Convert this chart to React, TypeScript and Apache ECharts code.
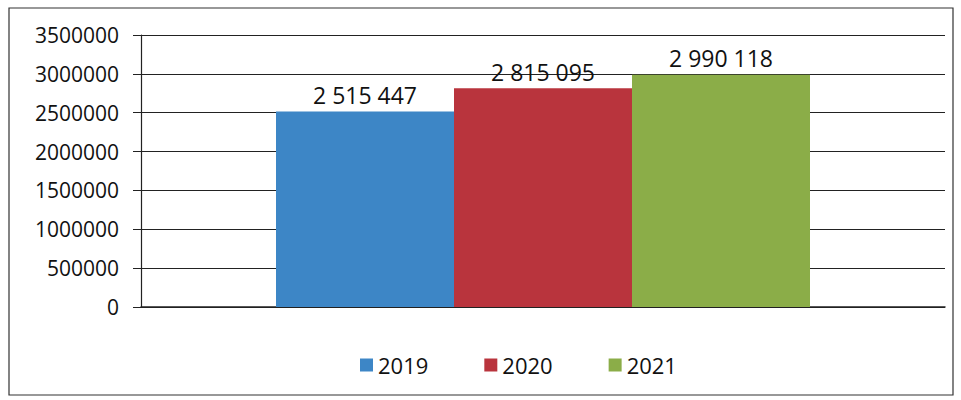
import React, { useEffect, useRef } from "react";
import * as echarts from "echarts";

const categories = [""];
const seriesNames = ["2019", "2020", "2021"];
const values2019 = [2515447];
const values2020 = [2815095];
const values2021 = [2990118];
const yTicks = [0, 500000, 1000000, 1500000, 2000000, 2500000, 3000000, 3500000];
const colors = ["#3d86c6", "#b9343d", "#8bad48"];

const fmt = (v: number) => String(v).replace(/\B(?=(\d{3})+(?!\d))/g, " ");

export default function App() {
  const ref = useRef<HTMLDivElement>(null);
  useEffect(() => {
    const chart = echarts.init(ref.current!, null, { renderer: "svg" });
    const data = [values2019, values2020, values2021];
    chart.setOption({
      animation: false,
      backgroundColor: "#ffffff",
      textStyle: { fontFamily: "Open Sans" },
      graphic: [
        {
          type: "rect",
          shape: { x: 9, y: 8, width: 944, height: 387 },
          style: { fill: "none", stroke: "#333", lineWidth: 1.2 },
          silent: true,
        },
      ],
      grid: { left: 141, right: 16, top: 35, bottom: 93, containLabel: false },
      legend: {
        left: 355,
        top: 349,
        itemWidth: 13,
        itemHeight: 13,
        itemGap: 56,
        icon: "rect",
        data: seriesNames,
        textStyle: { fontSize: 22, color: "#111", fontFamily: "Open Sans" },
      },
      xAxis: {
        type: "category",
        data: categories,
        axisLine: { show: true, lineStyle: { color: "#222", width: 1.5 } },
        axisTick: { show: false },
        axisLabel: { show: false },
      },
      yAxis: {
        type: "value",
        min: yTicks[0],
        max: yTicks[yTicks.length - 1],
        interval: 500000,
        axisLine: { show: true, lineStyle: { color: "#222", width: 1.2 } },
        axisTick: { show: true, length: 8, lineStyle: { color: "#222" } },
        axisLabel: {
          fontSize: 21,
          color: "#111",
          margin: 22,
          fontFamily: "Open Sans",
          formatter: (v: number) => String(v),
        },
        splitLine: { show: true, lineStyle: { color: "#222", width: 1.2 } },
      },
      series: seriesNames.map((name, i) => ({
        name,
        type: "bar",
        data: data[i],
        barWidth: 178,
        barGap: "0%",
        itemStyle: { color: colors[i] },
        label: {
          show: true,
          position: "top",
          distance: 5,
          fontSize: 23,
          color: "#111",
          fontFamily: "Open Sans",
          formatter: (p: any) => fmt(p.value),
        },
      })),
    });
    return () => chart.dispose();
  }, []);
  return <div ref={ref} style={{ width: 961, height: 400, position: "absolute", left: 0, top: 0 }} />;
}
